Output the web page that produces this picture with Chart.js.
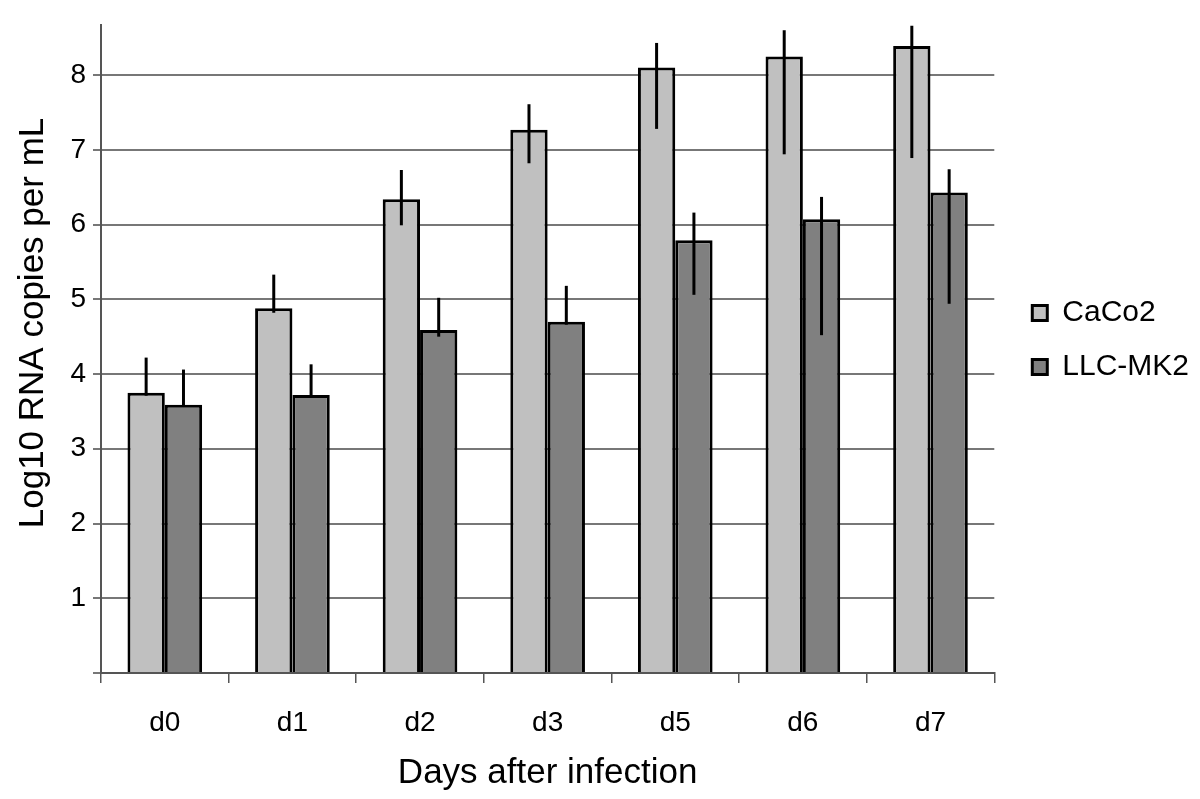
<!DOCTYPE html>
<html>
<head>
<meta charset="utf-8">
<script src="https://cdn.jsdelivr.net/npm/chart.js@4/dist/chart.umd.min.js"></script>
<style>
    body { margin: 0; background: #ffffff; }
    #container { width: 1200px; height: 799px; }
</style>
</head>
<body>
<div id="container"><canvas id="myChart"></canvas></div>
<script>
const days = ['d0', 'd1', 'd2', 'd3', 'd5', 'd6', 'd7'];
const yTicks = [0, 1, 2, 3, 4, 5, 6, 7, 8];
const yTitle = 'Log10 RNA copies per mL';
const xTitle = 'Days after infection';

const caco2 = [3.75, 4.88, 6.34, 7.27, 8.10, 8.25, 8.39];
const caco2High = [4.22, 5.33, 6.73, 7.61, 8.43, 8.60, 8.66];
const caco2Low = [3.71, 4.82, 5.99, 6.82, 7.28, 6.94, 6.89];

const llcmk2 = [3.59, 3.72, 4.59, 4.70, 5.79, 6.07, 6.43];
const llcmk2High = [4.06, 4.13, 5.02, 5.18, 6.16, 6.37, 6.74];
const llcmk2Low = [3.56, 3.71, 4.50, 4.66, 5.06, 4.52, 4.94];

const errHigh = [caco2High, llcmk2High];
const errLow = [caco2Low, llcmk2Low];

const fontFamily = '"Liberation Sans", Arial, sans-serif';

// draws the vertical error lines (no caps) over each bar
const errorBars = {
    id: 'errorBars',
    afterDatasetsDraw: function (chart) {
        var ctx = chart.ctx;
        var yScale = chart.scales.y;
        ctx.save();
        ctx.strokeStyle = '#000000';
        ctx.lineWidth = 3;
        chart.data.datasets.forEach(function (ds, i) {
            var meta = chart.getDatasetMeta(i);
            meta.data.forEach(function (bar, j) {
                var top = yScale.getPixelForValue(errHigh[i][j]);
                var bottom = yScale.getPixelForValue(errLow[i][j]);
                ctx.beginPath();
                ctx.moveTo(bar.x, top);
                ctx.lineTo(bar.x, bottom);
                ctx.stroke();
            });
        });
        ctx.restore();
    }
};

// nudge the legend a bit right and up, away from the plot
const legendNudge = {
    id: 'legendNudge',
    afterLayout: function (chart) {
        var lg = chart.legend;
        lg.left += 14;
        lg.right += 14;
        lg.top -= 9;
        lg.bottom -= 9;
    }
};

// y title sits a little above the middle of the axis in the original
const yTitleDraw = {
    id: 'yTitleDraw',
    afterDraw: function (chart) {
        var ctx = chart.ctx;
        var area = chart.chartArea;
        ctx.save();
        ctx.translate(43, (area.top + area.bottom) / 2 - 26);
        ctx.rotate(-Math.PI / 2);
        ctx.fillStyle = '#000000';
        ctx.font = '35px ' + fontFamily;
        ctx.textAlign = 'center';
        ctx.textBaseline = 'alphabetic';
        ctx.fillText(yTitle, 0, 0);
        ctx.restore();
    }
};

function createChart(ctx) {
    return new Chart(ctx, {
        type: 'bar',
        data: {
            labels: days,
            datasets: [{
                label: 'CaCo2',
                data: caco2,
                backgroundColor: '#c0c0c0',
                borderColor: '#000000',
                borderWidth: 3,
                categoryPercentage: 0.585,
                barPercentage: 1.0
            }, {
                label: 'LLC-MK2',
                data: llcmk2,
                backgroundColor: '#808080',
                borderColor: '#000000',
                borderWidth: 3,
                categoryPercentage: 0.585,
                barPercentage: 1.0
            }]
        },
        options: {
            responsive: true,
            maintainAspectRatio: false,
            animation: false,
            layout: {
                padding: { top: 25, right: 15, left: 0, bottom: 0 }
            },
            scales: {
                x: {
                    afterFit: function (scale) {
                        scale.height = 126;
                    },
                    grid: {
                        display: true,
                        offset: true,
                        drawOnChartArea: false,
                        drawTicks: true,
                        tickLength: 10,
                        color: '#555555',
                        lineWidth: 1.5
                    },
                    border: { display: true, color: '#555555', width: 2 },
                    ticks: {
                        color: '#000000',
                        padding: 23,
                        font: { size: 28, family: fontFamily }
                    },
                    title: {
                        display: true,
                        text: xTitle,
                        color: '#000000',
                        padding: { top: 0, bottom: 5 },
                        font: { size: 35, family: fontFamily }
                    }
                },
                y: {
                    min: 0,
                    max: 8.67,
                    afterFit: function (scale) {
                        scale.width = 101;
                    },
                    afterBuildTicks: function (scale) {
                        scale.ticks = yTicks.map(function (v) { return { value: v }; });
                    },
                    grid: {
                        display: true,
                        color: '#777777',
                        lineWidth: 2,
                        drawTicks: true,
                        tickLength: 8
                    },
                    border: { display: true, color: '#555555', width: 2 },
                    ticks: {
                        color: '#000000',
                        padding: 7,
                        font: { size: 28, family: fontFamily },
                        callback: function (value) {
                            return value === 0 ? '' : value;
                        }
                    }
                }
            },
            plugins: {
                legend: {
                    display: true,
                    position: 'right',
                    fullSize: false,
                    labels: {
                        color: '#000000',
                        boxWidth: 15,
                        boxHeight: 15,
                        padding: 24,
                        font: { size: 30, family: fontFamily }
                    }
                },
                tooltip: { enabled: false }
            }
        },
        plugins: [errorBars, legendNudge, yTitleDraw]
    });
}

var myChart = createChart(document.getElementById('myChart'));
</script>
</body>
</html>
